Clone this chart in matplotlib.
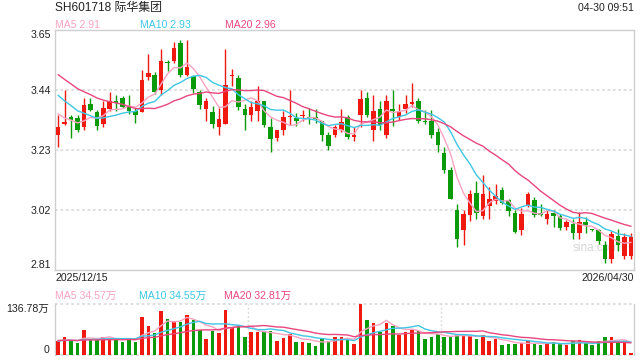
import numpy as np
import pandas as pd
import matplotlib
matplotlib.use("Agg")
import matplotlib.pyplot as plt

plt.rcParams['font.family'] = ['Liberation Sans', 'Noto Sans CJK SC', 'DejaVu Sans']

title = "SH601718 际华集团"
stamp = "04-30 09:51"
date_start = "2025/12/15"
date_end = "2026/04/30"
price_ma_labels = ["MA5 2.91", "MA10 2.93", "MA20 2.96"]
vol_ma_labels = ["MA5 34.57万", "MA10 34.55万", "MA20 32.81万"]
price_ticks = [3.65, 3.44, 3.23, 3.02, 2.81]
vol_max = 136.78
vol_tick_labels = ["0", "136.78万"]

opens = [3.284, 3.321, 3.344, 3.342, 3.311, 3.391, 3.363, 3.322, 3.375, 3.403,
         3.412, 3.383, 3.366, 3.364, 3.484, 3.493, 3.440, 3.535, 3.541, 3.606,
         3.494, 3.488, 3.433, 3.375, 3.363, 3.311, 3.322, 3.490, 3.482, 3.375,
         3.354, 3.366, 3.403, 3.311, 3.272, 3.301, 3.344, 3.342, 3.350, 3.344,
         3.343, 3.330, 3.284, 3.284, 3.301, 3.344, 3.277, 3.354, 3.412, 3.301,
         3.375, 3.284, 3.375, 3.344, 3.375, 3.391, 3.403, 3.331, 3.331, 3.293,
         3.219, 3.161, 3.021, 2.951, 3.001, 3.080, 2.998, 3.033, 3.051, 3.089,
         3.056, 3.010, 2.951, 3.033, 3.056, 3.010, 2.990, 3.010, 2.998, 2.959,
         2.971, 2.940, 2.978, 2.951, 2.951, 2.896, 2.850, 2.928, 2.858, 2.858]
highs = [3.351, 3.441, 3.351, 3.351, 3.412, 3.412, 3.371, 3.403, 3.433, 3.424,
         3.420, 3.424, 3.377, 3.511, 3.566, 3.503, 3.585, 3.546, 3.608, 3.616,
         3.616, 3.494, 3.441, 3.412, 3.383, 3.377, 3.585, 3.515, 3.491, 3.391,
         3.403, 3.453, 3.403, 3.342, 3.300, 3.365, 3.441, 3.360, 3.371, 3.377,
         3.375, 3.333, 3.293, 3.319, 3.375, 3.351, 3.309, 3.441, 3.433, 3.424,
         3.403, 3.424, 3.441, 3.391, 3.424, 3.465, 3.412, 3.371, 3.371, 3.307,
         3.240, 3.170, 3.040, 3.021, 3.091, 3.120, 3.141, 3.100, 3.111, 3.100,
         3.060, 3.020, 3.027, 3.082, 3.065, 3.040, 3.020, 3.020, 3.005, 2.985,
         2.987, 3.012, 2.995, 2.955, 2.955, 2.912, 2.945, 2.955, 2.940, 2.940]
lows = [3.242, 3.318, 3.271, 3.293, 3.301, 3.365, 3.301, 3.309, 3.365, 3.365,
        3.378, 3.356, 3.325, 3.363, 3.476, 3.426, 3.424, 3.505, 3.534, 3.484,
        3.488, 3.430, 3.375, 3.333, 3.307, 3.281, 3.322, 3.453, 3.371, 3.301,
        3.333, 3.333, 3.310, 3.223, 3.260, 3.281, 3.319, 3.313, 3.330, 3.321,
        3.323, 3.262, 3.231, 3.274, 3.293, 3.270, 3.262, 3.309, 3.344, 3.262,
        3.301, 3.272, 3.313, 3.336, 3.360, 3.380, 3.325, 3.321, 3.272, 3.223,
        3.150, 3.060, 2.890, 2.899, 2.980, 2.990, 2.990, 2.990, 3.040, 3.040,
        3.000, 2.940, 2.931, 3.030, 2.995, 2.998, 2.970, 2.960, 2.950, 2.950,
        2.917, 2.917, 2.940, 2.945, 2.900, 2.835, 2.835, 2.875, 2.850, 2.850]
closes = [3.311, 3.327, 3.334, 3.301, 3.386, 3.371, 3.315, 3.377, 3.403, 3.395,
          3.380, 3.366, 3.354, 3.475, 3.500, 3.434, 3.541, 3.533, 3.586, 3.493,
          3.519, 3.445, 3.386, 3.403, 3.322, 3.340, 3.456, 3.492, 3.380, 3.354,
          3.381, 3.403, 3.319, 3.270, 3.299, 3.344, 3.346, 3.333, 3.352, 3.342,
          3.340, 3.284, 3.243, 3.309, 3.328, 3.274, 3.279, 3.410, 3.351, 3.368,
          3.317, 3.403, 3.366, 3.368, 3.391, 3.398, 3.333, 3.329, 3.284, 3.246,
          3.161, 3.060, 2.920, 3.006, 3.076, 3.010, 3.076, 3.058, 3.068, 3.045,
          3.018, 2.943, 3.006, 3.076, 3.001, 3.001, 3.006, 2.999, 2.957, 2.978,
          2.940, 2.978, 2.969, 2.949, 2.910, 2.850, 2.936, 2.899, 2.924, 2.924]
volumes = [37, 49, 37.5, 33, 67, 41, 41, 48.5, 45.5, 42,
           35.5, 46, 35.5, 103, 78, 59, 119, 97.5, 90.5, 89.5,
           108.5, 93, 66, 43.2, 65.7, 60.3, 121.5, 74.7, 76.5, 49.5,
           63, 63, 61.2, 64.8, 37.8, 46.8, 56.7, 36, 36, 33.3,
           25.2, 45, 37.8, 49.5, 49.5, 43.2, 29.7, 136.78, 94.5, 85.5,
           63, 85.5, 78.3, 54, 61.2, 67.5, 64.8, 43.2, 49.5, 56.7,
           49.5, 49.5, 54, 51.3, 51.3, 43.2, 54, 37.8, 43.2, 27,
           29.7, 29.7, 31.5, 37.8, 29.7, 27, 29.7, 34.2, 31.5, 27,
           36.5, 39.5, 31.5, 27, 37.8, 47, 49, 38, 33, 6]
# closes / volumes of the 19 sessions before the window (only feed the moving averages)
prior_closes = [3.66, 3.65, 3.63, 3.60, 3.57, 3.55, 3.53, 3.51, 3.49, 3.47,
                3.52, 3.50, 3.48, 3.47, 3.46, 3.40, 3.37, 3.35, 3.35]
prior_volumes = [42, 38, 45, 40, 36, 44, 39, 41, 37, 43,
                 35, 40, 38, 36, 42, 39, 34, 41, 37]

RED = '#f0190f'
GREEN = '#0a9a0a'
C_MA5 = '#f8a3c2'
C_MA10 = '#3ec6e4'
C_MA20 = '#e9467d'
FRAME = '#cfcfcf'
GRID = '#dcdcdc'
TXT = '#222222'
FS = 7.6

W, H = 640, 360
fig = plt.figure(figsize=(6.4, 3.6), dpi=100)
ax = fig.add_axes([55 / W, 1 - 270 / H, (634 - 55) / W, 240 / H])
axv = fig.add_axes([55 / W, 1 - 355 / H, (634 - 55) / W, 51 / H])

o = np.array(opens); h = np.array(highs); l = np.array(lows); c = np.array(closes)
v = np.array(volumes)
n = len(c)
x = np.arange(n)
up = c >= o
cols = np.where(up, RED, GREEN)

k = len(prior_closes)
allc = pd.Series(prior_closes + closes)
allv = pd.Series(prior_volumes + volumes)

# candles
ax.vlines(x, l, h, colors=cols, lw=1.0, zorder=2)
body_b = np.minimum(o, c)
body_h = np.maximum(np.abs(c - o), 0.004)
ax.bar(x, body_h, bottom=body_b, width=0.7, color=cols, linewidth=0, zorder=3)

for nwin, col in [(5, C_MA5), (10, C_MA10), (20, C_MA20)]:
    ma = allc.rolling(nwin).mean().to_numpy()[k:]
    ax.plot(x, ma, color=col, lw=1.0, zorder=4)

ax.set_xlim(-0.5, n - 0.5)
ax.set_ylim(price_ticks[-1], price_ticks[0])
for t in price_ticks[1:-1]:
    ax.axhline(t, color=GRID, lw=1.3, ls=(0, (1.5, 1.5)), zorder=1)
ax.set_xticks([])
ax.set_yticks(price_ticks)
ax.set_yticklabels([f"{t:.2f}" for t in price_ticks], fontsize=FS, color=TXT)
ax.tick_params(axis='y', length=0, pad=3)
labs = ax.get_yticklabels()
labs[0].set_va('top')
labs[-1].set_va('bottom')
for s in ax.spines.values():
    s.set_color(FRAME)
    s.set_linewidth(1.0)
ax.text(0.976, 0.092, "sina.com", transform=ax.transAxes, ha='right', va='center',
        fontsize=8.5, color='#d6d6d6', zorder=0)

# volume
axv.bar(x, v, width=0.55, color=cols, linewidth=0, zorder=3)
for nwin, col in [(5, C_MA5), (10, C_MA10), (20, C_MA20)]:
    ma = allv.rolling(nwin).mean().to_numpy()[k:]
    axv.plot(x, ma, color=col, lw=1.0, zorder=4)
axv.set_xlim(-0.5, n - 0.5)
axv.set_ylim(0, vol_max)
axv.axhline(vol_max, color=GRID, lw=1.3, ls=(0, (1.5, 1.5)), zorder=1, clip_on=False)
axv.axhline(0, color=GRID, lw=1.3, ls=(0, (1.5, 1.5)), zorder=1, clip_on=False)
for xv in [n / 3 - 0.5, 2 * n / 3 - 0.5]:
    axv.axvline(xv, color=GRID, lw=1.0, ls=(0, (1.5, 1.5)), zorder=1)
axv.set_xticks([])
axv.set_yticks([0, vol_max])
axv.set_yticklabels(vol_tick_labels, fontsize=FS, color=TXT)
axv.tick_params(axis='y', length=0, pad=4)
vl = axv.get_yticklabels()
vl[0].set_va('bottom')
vl[1].set_va('top')
for side in ['top', 'bottom']:
    axv.spines[side].set_visible(False)
for side in ['left', 'right']:
    axv.spines[side].set_color(FRAME)
    axv.spines[side].set_linewidth(1.0)

# texts
def fy(py):
    return 1 - py / H

fig.text(55 / W, fy(8), title, fontsize=8.6, color=TXT, ha='left', va='center')
fig.text(634 / W, fy(8), stamp, fontsize=FS, color=TXT, ha='right', va='center')
for lab, col, px in zip(price_ma_labels, [C_MA5, C_MA10, C_MA20], [55, 140, 225]):
    fig.text(px / W, fy(24.5), lab, fontsize=FS, color=col, ha='left', va='center')
fig.text(55 / W, fy(278), date_start, fontsize=FS, color=TXT, ha='left', va='center')
fig.text(634 / W, fy(278), date_end, fontsize=FS, color=TXT, ha='right', va='center')
for lab, col, px in zip(vol_ma_labels, [C_MA5, C_MA10, C_MA20], [55, 139, 224]):
    fig.text(px / W, fy(296), lab, fontsize=FS, color=col, ha='left', va='center')

fig.savefig("out.png", dpi=100)
